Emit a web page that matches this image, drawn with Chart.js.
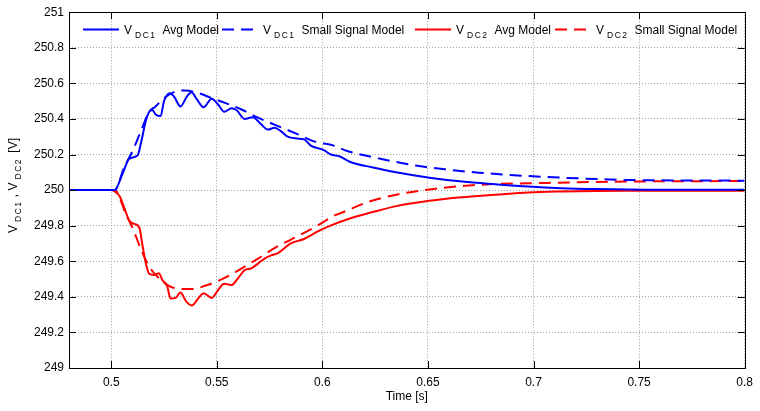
<!DOCTYPE html>
<html>
<head>
<meta charset="utf-8">
<script src="https://cdn.jsdelivr.net/npm/chart.js@4.4.1/dist/chart.umd.min.js"></script>
<style>
  body { margin: 0; background: #fff; }
  #wrap { width: 760px; height: 411px; }
</style>
</head>
<body>
<div id="wrap"><canvas id="vdcChart" width="760" height="411"></canvas></div>
<script>
// tick labels
const xTicks = [0.5, 0.55, 0.6, 0.65, 0.7, 0.75, 0.8];
const yTicks = [249, 249.2, 249.4, 249.6, 249.8, 250, 250.2, 250.4, 250.6, 250.8, 251];

// VDC1 average model
const tAvg1 = [0.48, 0.5, 0.5016, 0.5054, 0.5086, 0.5125, 0.514, 0.5164, 0.518, 0.5195, 0.521, 0.5234, 0.525, 0.5278, 0.5297,
  0.5328, 0.5359, 0.538, 0.5406, 0.5437, 0.5476, 0.5507, 0.5535, 0.557, 0.5593, 0.5632, 0.5671, 0.571, 0.5742, 0.5773,
  0.5805, 0.5835, 0.588, 0.5914, 0.5945, 0.6007, 0.604, 0.608, 0.6132, 0.624, 0.6335, 0.6507, 0.6663, 0.682, 0.6975,
  0.7131, 0.7288, 0.76, 0.8];
const vAvg1 = [250, 250, 250, 250.094, 250.177, 250.195, 250.26, 250.39, 250.44, 250.45, 250.425, 250.416, 250.5, 250.545, 250.527,
  250.47, 250.527, 250.55, 250.51, 250.466, 250.514, 250.48, 250.44, 250.46, 250.45, 250.4, 250.41, 250.37, 250.34, 250.35,
  250.33, 250.3, 250.29, 250.285, 250.25, 250.225, 250.2, 250.19, 250.158, 250.127, 250.103, 250.07, 250.048, 250.033, 250.02,
  250.011, 250.006, 250.002, 250.002];

// VDC1 small signal model
const tSs1 = [0.48, 0.5016, 0.5062, 0.5101, 0.514, 0.518, 0.521, 0.525, 0.5304, 0.535, 0.5414, 0.5476, 0.5539, 0.5617,
  0.5695, 0.579, 0.5882, 0.596, 0.6054, 0.6117, 0.6273, 0.643, 0.6585, 0.674, 0.6975, 0.721, 0.7444, 0.8];
const vSs1 = [250, 250, 250.13, 250.22, 250.33, 250.44, 250.47, 250.517, 250.554, 250.56, 250.545, 250.517, 250.49, 250.453,
  250.407, 250.36, 250.315, 250.274, 250.25, 250.22, 250.177, 250.14, 250.116, 250.098, 250.079, 250.066, 250.057, 250.053];

// VDC2 average model
const tAvg2 = [0.48, 0.5, 0.502, 0.504, 0.5062, 0.5086, 0.511, 0.5133, 0.5148, 0.5164, 0.518, 0.5203, 0.5226, 0.5242, 0.5265,
  0.5281, 0.5305, 0.5328, 0.5354, 0.5382, 0.5414, 0.5437, 0.5476, 0.5507, 0.5535, 0.557, 0.56, 0.5632, 0.5663, 0.5695,
  0.5726, 0.5757, 0.579, 0.585, 0.5913, 0.5976, 0.6038, 0.613, 0.624, 0.635, 0.6507, 0.666, 0.682, 0.6975, 0.713, 0.744, 0.8];
const vAvg2 = [250, 250, 249.99, 249.965, 249.9, 249.827, 249.81, 249.79, 249.69, 249.588, 249.53, 249.523, 249.532, 249.495, 249.46,
  249.39, 249.394, 249.425, 249.376, 249.352, 249.394, 249.42, 249.394, 249.44, 249.473, 249.467, 249.504, 249.55, 249.56, 249.587,
  249.615, 249.633, 249.646, 249.7, 249.725, 249.766, 249.8, 249.84, 249.877, 249.91, 249.94, 249.96, 249.974, 249.987, 249.992, 249.996, 249.996];

// VDC2 small signal model
const tSs2 = [0.48, 0.5016, 0.507, 0.51, 0.514, 0.518, 0.5226, 0.5273, 0.5328, 0.5382, 0.5445, 0.5507, 0.557, 0.5632,
  0.5695, 0.579, 0.5882, 0.5976, 0.6054, 0.61, 0.6226, 0.635, 0.6507, 0.6663, 0.682, 0.6975, 0.721, 0.744, 0.8];
const vSs2 = [250, 250, 249.864, 249.79, 249.67, 249.57, 249.505, 249.462, 249.444, 249.444, 249.462, 249.49, 249.527, 249.57,
  249.615, 249.685, 249.74, 249.8, 249.855, 249.877, 249.937, 249.974, 250.004, 250.023, 250.034, 250.038, 250.044, 250.048, 250.051];

const FONT = 'Liberation Sans, Arial, sans-serif';
const DASH = [12, 7];

const toPoints = (ts, vs) => ts.map((t, i) => ({x: t, y: vs[i]}));

// ticks pointing inward on all four sides + box
const boxTicks = {
    id: 'boxTicks',
    afterDatasetsDraw(chart) {
        const {ctx, chartArea: a, scales: {x, y}} = chart;
        const len = 7;
        ctx.save();
        ctx.strokeStyle = '#000';
        ctx.lineWidth = 1;
        ctx.beginPath();
        xTicks.forEach(v => {
            const px = Math.round(x.getPixelForValue(v)) + 0.5;
            ctx.moveTo(px, a.bottom); ctx.lineTo(px, a.bottom - len);
            ctx.moveTo(px, a.top); ctx.lineTo(px, a.top + len);
        });
        yTicks.forEach(v => {
            const py = Math.round(y.getPixelForValue(v)) + 0.5;
            ctx.moveTo(a.left, py); ctx.lineTo(a.left + len, py);
            ctx.moveTo(a.right, py); ctx.lineTo(a.right - len, py);
        });
        ctx.stroke();
        ctx.strokeRect(Math.round(a.left) + 0.5, Math.round(a.top) + 0.5,
            Math.round(a.right - a.left), Math.round(a.bottom - a.top));
        ctx.restore();
    }
};

// "V" + spaced subscript
function drawV(ctx, x, y, sub) {
    ctx.font = '12px ' + FONT;
    ctx.letterSpacing = '0px';
    ctx.fillText('V', x, y);
    x += ctx.measureText('V').width + 3;
    ctx.font = '8.5px ' + FONT;
    ctx.letterSpacing = '1.5px';
    ctx.fillText(sub, x, y + 4);
    x += ctx.measureText(sub).width;
    ctx.letterSpacing = '0px';
    ctx.font = '12px ' + FONT;
    return x;
}

const legendEntries = [
    {color: '#0000ff', dash: [], sub: 'DC1', text: 'Avg Model'},
    {color: '#0000ff', dash: DASH, sub: 'DC1', text: 'Small Signal Model'},
    {color: '#ff0000', dash: [], sub: 'DC2', text: 'Avg Model'},
    {color: '#ff0000', dash: DASH, sub: 'DC2', text: 'Small Signal Model'}
];
const legendStarts = [83, 222, 415, 555];

const customText = {
    id: 'customText',
    afterDraw(chart) {
        const {ctx} = chart;
        ctx.save();
        ctx.fillStyle = '#000';
        ctx.textBaseline = 'alphabetic';
        ctx.textAlign = 'left';
        // legend
        const ly = 29;
        legendEntries.forEach((e, i) => {
            const x0 = legendStarts[i];
            ctx.strokeStyle = e.color;
            ctx.lineWidth = 2;
            ctx.setLineDash(e.dash);
            ctx.beginPath();
            ctx.moveTo(x0, ly + 0.5);
            ctx.lineTo(x0 + 36, ly + 0.5);
            ctx.stroke();
            ctx.setLineDash([]);
            const x = drawV(ctx, x0 + 41, ly + 5, e.sub);
            ctx.fillText(e.text, x + 6, ly + 5);
        });
        // y axis title, rotated
        ctx.save();
        ctx.translate(17, 187);
        ctx.rotate(-Math.PI / 2);
        const total = 92;
        let x = -total / 2;
        x = drawV(ctx, x, 0, 'DC1');
        ctx.fillText(' , ', x, 0);
        x += ctx.measureText(' , ').width;
        x = drawV(ctx, x, 0, 'DC2');
        ctx.fillText(' [V]', x + 2, 0);
        ctx.restore();
        ctx.restore();
    }
};

const ctx = document.getElementById('vdcChart').getContext('2d');
new Chart(ctx, {
    type: 'line',
    data: {
        datasets: [
            {
                label: 'VDC1 Avg Model',
                data: toPoints(tAvg1, vAvg1),
                borderColor: '#0000ff',
                borderWidth: 2,
                pointRadius: 0,
                cubicInterpolationMode: 'monotone',
                fill: false
            },
            {
                label: 'VDC1 Small Signal Model',
                data: toPoints(tSs1, vSs1),
                borderColor: '#0000ff',
                borderWidth: 2,
                borderDash: DASH,
                pointRadius: 0,
                cubicInterpolationMode: 'monotone',
                fill: false
            },
            {
                label: 'VDC2 Avg Model',
                data: toPoints(tAvg2, vAvg2),
                borderColor: '#ff0000',
                borderWidth: 2,
                pointRadius: 0,
                cubicInterpolationMode: 'monotone',
                fill: false
            },
            {
                label: 'VDC2 Small Signal Model',
                data: toPoints(tSs2, vSs2),
                borderColor: '#ff0000',
                borderWidth: 2,
                borderDash: DASH,
                pointRadius: 0,
                cubicInterpolationMode: 'monotone',
                fill: false
            }
        ]
    },
    options: {
        responsive: false,
        animation: false,
        layout: {
            padding: {top: 6, right: 8, left: 0, bottom: 0}
        },
        scales: {
            x: {
                type: 'linear',
                min: 0.48,
                max: 0.8,
                afterBuildTicks: s => { s.ticks = xTicks.map(v => ({value: v})); },
                afterFit: s => { s.height = 43; },
                grid: {
                    color: '#a0a0a0',
                    drawTicks: false
                },
                border: {display: false, dash: [1, 2]},
                ticks: {
                    color: '#000',
                    padding: 7,
                    maxRotation: 0,
                    autoSkip: false,
                    font: {family: FONT, size: 12},
                    callback: v => String(+v.toFixed(2))
                },
                title: {
                    display: true,
                    text: 'Time [s]',
                    color: '#000',
                    font: {family: FONT, size: 12},
                    padding: {top: 0, bottom: 7}
                }
            },
            y: {
                min: 249,
                max: 251,
                afterBuildTicks: s => { s.ticks = yTicks.map(v => ({value: v})); },
                afterFit: s => { s.width = 69; },
                grid: {
                    color: '#a0a0a0',
                    drawTicks: false
                },
                border: {display: false, dash: [1, 2]},
                ticks: {
                    color: '#000',
                    padding: 5,
                    autoSkip: false,
                    font: {family: FONT, size: 12},
                    callback: v => String(+v.toFixed(1))
                }
            }
        },
        plugins: {
            legend: {display: false},
            tooltip: {enabled: false}
        }
    },
    plugins: [boxTicks, customText]
});
</script>
</body>
</html>
